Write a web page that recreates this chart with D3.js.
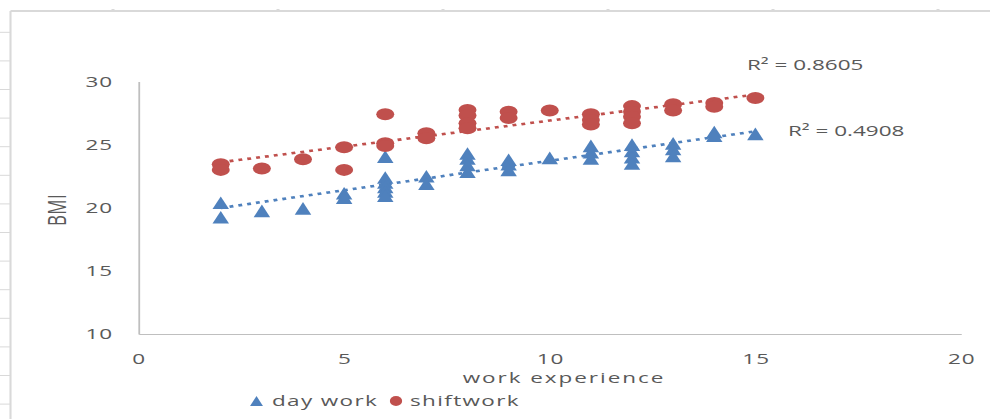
<!DOCTYPE html>
<html>
<head>
<meta charset="utf-8">
<script src="https://cdn.jsdelivr.net/npm/d3@7"></script>
<style>
  html, body { margin: 0; padding: 0; background: #ffffff; }
  svg { display: block; }
  text { font-family: "Open Sans", "DejaVu Sans", sans-serif; fill: #595959; }
</style>
</head>
<body>
<svg id="chart" width="990" height="419"></svg>
<script>
// ---- data ----
const dayX   = [2, 2, 3, 4, 5, 5, 6, 6, 6, 6, 6, 6, 7, 7, 8, 8, 8, 8, 9, 9, 9, 10, 11, 11, 11, 12, 12, 12, 12, 13, 13, 13, 14, 14, 15];
const dayY   = [20.4, 19.25, 19.75, 19.95, 21.15, 20.8, 24.05, 22.4, 22.0, 21.65, 21.3, 20.95, 22.5, 21.9, 24.3, 23.9, 23.4, 22.85, 23.8, 23.45, 23.0, 23.95, 24.9, 24.4, 23.9, 25.0, 24.5, 24.0, 23.5, 25.1, 24.65, 24.1, 26.0, 25.7, 25.85];
const shiftX = [2, 2, 3, 4, 5, 5, 6, 6, 6, 7, 7, 8, 8, 8, 8, 9, 9, 10, 11, 11, 11, 12, 12, 12, 12, 13, 13, 14, 14, 15];
const shiftY = [23.45, 23.0, 23.1, 23.85, 24.8, 23.0, 27.4, 25.1, 24.9, 25.9, 25.5, 27.75, 27.3, 26.7, 26.3, 27.6, 27.1, 27.7, 27.4, 26.95, 26.6, 28.05, 27.6, 27.2, 26.7, 28.2, 27.7, 28.3, 28.0, 28.7];
const xTicks = [0, 5, 10, 15, 20];
const yTicks = [10, 15, 20, 25, 30];
const seriesNames = ["day work", "shiftwork"];
const r2Labels = ["R\u00B2 = 0.4908", "R\u00B2 = 0.8605"];
const xTitle = "work experience";
const yTitle = "BMI";

// ---- layout ----
const S = 1.5;               // horizontal stretch of the whole picture
const BLUE = "#4F81BD", RED = "#C0504D";
const svg = d3.select("#chart");
const g = svg.append("g").attr("transform", `scale(${S},1)`);

const x = d3.scaleLinear().domain([0, 20]).range([138.5 / S, 961 / S]);
const y = d3.scaleLinear().domain([10, 30]).range([334, 81.5]);

// outer frame (spreadsheet edge)
const frame = g.append("g").attr("stroke", "#d9d9d9").attr("fill", "none");
frame.append("line").attr("x1", 7).attr("x2", 660).attr("y1", 11).attr("y2", 11).attr("stroke-width", 2);
frame.append("line").attr("x1", 7).attr("x2", 7).attr("y1", 11).attr("y2", 419).attr("stroke-width", 1.4);
frame.selectAll("line.lt").data(d3.range(14)).join("line").attr("class", "lt")
  .attr("x1", 0).attr("x2", 7).attr("y1", d => 32.3 + d * 28.6).attr("y2", d => 32.3 + d * 28.6).attr("stroke-width", 1);
frame.selectAll("line.tt").data(d3.range(6)).join("line").attr("class", "tt")
  .attr("x1", d => (113 + d * 165) / S - 1).attr("x2", d => (113 + d * 165) / S + 1).attr("y1", 9.5).attr("y2", 9.5).attr("stroke-width", 1);

// axes
const xAxis = g.append("g").attr("transform", "translate(0,334)")
  .call(d3.axisBottom(x).tickValues(xTicks).tickSize(0).tickSizeOuter(0).tickPadding(19));
const yAxis = g.append("g").attr("transform", `translate(${x(0)},0)`)
  .call(d3.axisLeft(y).tickValues(yTicks).tickSize(0).tickSizeOuter(0).tickPadding(17));
[xAxis, yAxis].forEach(a => {
  a.select(".domain").attr("stroke", "#bfbfbf").attr("stroke-width", 1.2);
  a.selectAll("text").attr("font-size", 15).style("font-family", "'Open Sans', sans-serif")
    .attr("fill", "#595959").attr("letter-spacing", 0.6);
});

// regression lines
function fit(xs, ys) {
  const mx = d3.mean(xs), my = d3.mean(ys);
  let sxy = 0, sxx = 0;
  xs.forEach((v, i) => { sxy += (v - mx) * (ys[i] - my); sxx += (v - mx) * (v - mx); });
  const b = sxy / sxx, a = my - b * mx;
  const x0 = d3.min(xs), x1 = d3.max(xs);
  return [[x0, a + b * x0], [x1, a + b * x1]];
}
const line = d3.line().x(d => x(d[0])).y(d => y(d[1]));
g.append("path").datum(fit(dayX, dayY)).attr("d", line)
  .attr("fill", "none").attr("stroke", BLUE).attr("stroke-width", 2.6).attr("stroke-dasharray", "2.6,3.4");
g.append("path").datum(fit(shiftX, shiftY)).attr("d", line)
  .attr("fill", "none").attr("stroke", RED).attr("stroke-width", 2.6).attr("stroke-dasharray", "2.6,3.4");

// markers
const tri = (hw, hh) => `M0,${-hh}L${hw},${hh}L${-hw},${hh}Z`;
g.append("g").selectAll("path").data(dayX.map((v, i) => [v, dayY[i]])).join("path")
  .attr("transform", d => `translate(${x(d[0])},${y(d[1])})`)
  .attr("d", tri(5.5, 6.3)).attr("fill", BLUE);
g.append("g").selectAll("circle").data(shiftX.map((v, i) => [v, shiftY[i]])).join("circle")
  .attr("cx", d => x(d[0])).attr("cy", d => y(d[1])).attr("r", 6).attr("fill", RED);

// R² labels
g.append("text").attr("x", 747 / S).attr("y", 70).attr("font-size", 15).text(r2Labels[1]);
g.append("text").attr("x", 788 / S).attr("y", 136).attr("font-size", 15).text(r2Labels[0]);

// axis titles
g.append("text").attr("x", 564 / S).attr("y", 383).attr("text-anchor", "middle")
  .attr("font-size", 15).attr("letter-spacing", 1.3).text(xTitle);
g.append("text").attr("transform", `translate(${66 / S},210) rotate(-90)`).attr("text-anchor", "middle")
  .attr("font-size", 17).attr("letter-spacing", 0.3).text(yTitle);

// legend
const leg = g.append("g");
leg.append("path").attr("transform", `translate(${256.5 / S},401)`).attr("d", tri(4.3, 5)).attr("fill", BLUE);
leg.append("text").attr("x", 272 / S).attr("y", 406).attr("font-size", 15).attr("letter-spacing", 0.9).text(seriesNames[0]);
leg.append("ellipse").attr("cx", 396 / S).attr("cy", 401).attr("rx", 4.1).attr("ry", 5).attr("fill", RED);
leg.append("text").attr("x", 410 / S).attr("y", 406).attr("font-size", 15).attr("letter-spacing", 0.9).text(seriesNames[1]);
</script>
</body>
</html>
